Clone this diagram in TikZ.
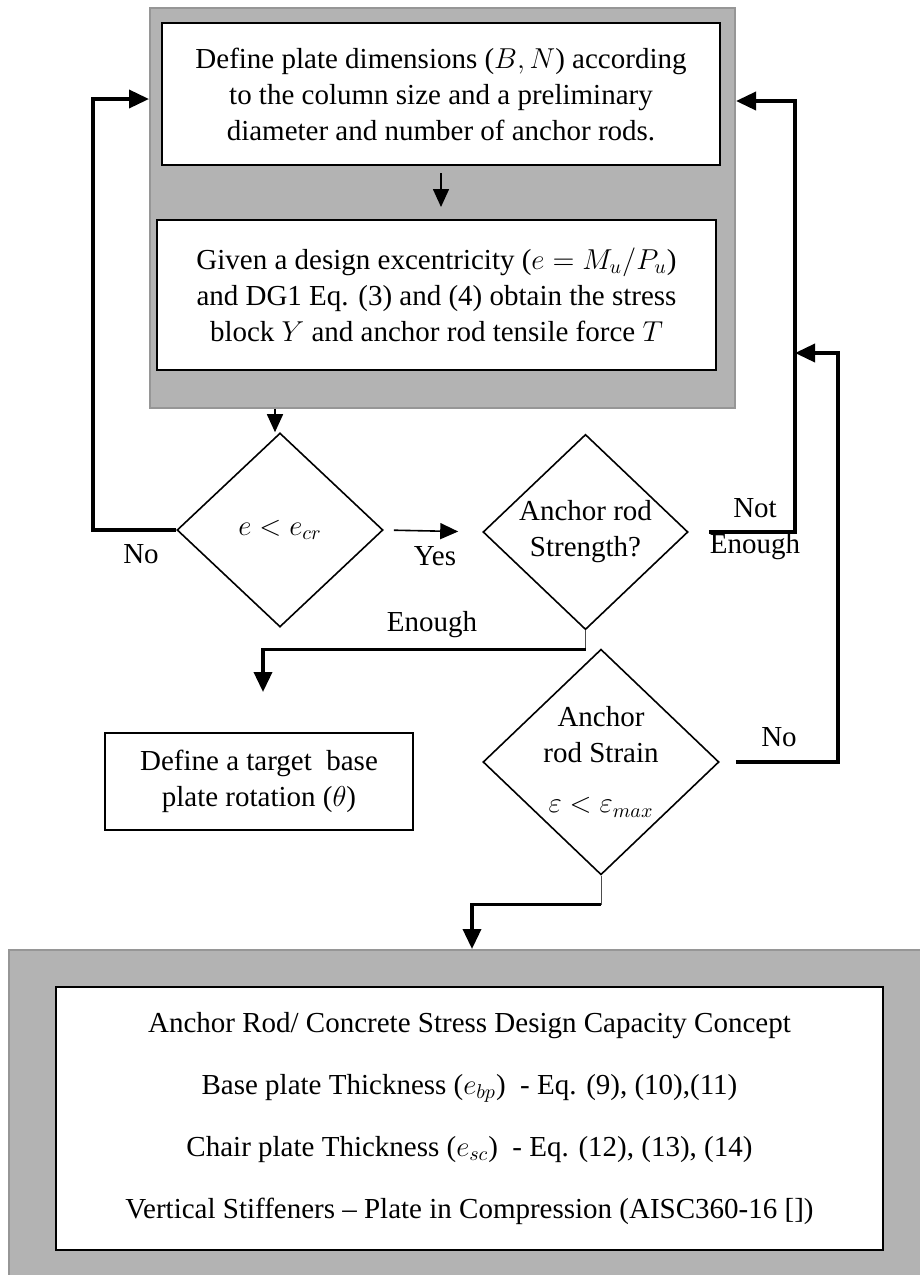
\documentclass[tikz,border=0pt]{standalone}
\usepackage{amsmath, amssymb}
\usepackage{fontspec}
\setmainfont{Liberation Serif}
\usepackage{tikz}
\usetikzlibrary{shapes, arrows.meta, positioning, calc}
\definecolor{panelgray}{RGB}{179, 179, 179}
\definecolor{paneledge}{RGB}{150, 150, 150}
\tikzset{
  >=Triangle,
  panel/.style={draw=paneledge, line width=1pt, fill=panelgray},
  stepbox/.style={draw, line width=1pt, fill=white, align=center, inner sep=2pt},
  decision/.style={draw, diamond, line width=0.8pt, fill=white, align=center, inner sep=0pt},
  thinarrow/.style={-{Triangle[length=9pt, width=8pt]}, line width=0.8pt},
  looparrow/.style={-{Triangle[length=10pt, width=9pt]}, line width=1.8pt},
  stub/.style={line width=0.4pt, black!70}
}
\begin{document}
\begin{tikzpicture}[x=0.5pt, y=-0.5pt, every node/.style={font=\fontsize{14.5}{18}\selectfont}]
\useasboundingbox (0,0) rectangle (920,1275);
\node[panel,minimum width=292.5pt,minimum height=200pt] (frame1) at (442.5,208) {};
\node[panel,minimum width=463pt,minimum height=170pt] (frame2) at (472,1120) {};
\node[stepbox,minimum width=279pt,minimum height=71pt] (box1) at (441,94)
{Define plate dimensions ($B,N$) according\\to the column size and a preliminary\\diameter and number of anchor rods.};
\node[stepbox,minimum width=279.5pt,minimum height=75pt] (box2) at (436.5,295)
{Given a design excentricity ($e=M_u/P_u$)\\and DG1 Eq. (3) and (4) obtain the stress\\block $Y$ and anchor rod tensile force $T$};
\node[decision,minimum width=103pt,minimum height=97pt] (d1) at (280,530) {$e<e_{cr}$};
\node[decision,minimum width=102.5pt,minimum height=96pt] (d2) at (585.5,532) {Anchor rod\\Strength?};
\node[decision,minimum width=118pt,minimum height=110.5pt] (d3) at (601,762)
{Anchor\\rod Strain\\[7pt]$\varepsilon<\varepsilon_{max}$};
\node[stepbox,minimum width=154pt,minimum height=48.5pt] (box3) at (259,781.5)
{Define a target~~base\\plate rotation ($\theta$)};
\node[stepbox,minimum width=413.5pt,minimum height=131.5pt] (box4) at (469.5,1118.5)
{Anchor Rod/ Concrete Stress Design Capacity Concept\\[13pt]
Base plate Thickness ($e_{bp}$)~~- Eq. (9), (10),(11)\\[13pt]
Chair plate Thickness ($e_{sc}$)~~- Eq. (12), (13), (14)\\[13pt]
Vertical Stiffeners -- Plate in Compression (AISC360-16 [])};
\node (lblno1) at (141,554) {No};
\node (lblyes) at (435,556) {Yes};
\node[align=center] (lblnot) at (755,529) {Not\\Enough};
\node (lblenough) at (432,625) {Enough};
\node (lblno2) at (779,737) {No};
\coordinate (join) at (795,353);
\draw[thinarrow,shorten <=3.5pt,shorten >=6pt] (box1.south) -- (box1.south |- box2.north);
\draw[thinarrow] ([xshift=-2.5pt]d1.north |- frame1.south) -- ([xshift=-2.5pt]d1.north);
\draw[thinarrow,shorten <=5pt,shorten >=12pt] (d1.east) -- (d2.west);
\draw[looparrow] (d1.west) -- ++(-83,0) |- (frame1.west |- {$(box1.west)+(0,5)$});
\draw[looparrow] ([xshift=10pt]d2.east) -| (join) |- (frame1.east |- {$(box1.east)+(0,7)$});
\draw[looparrow] ([xshift=8pt]d3.east) -| ([xshift=21.5pt]join) -- (join);
\draw[stub] (d2.south) -- ++(0,19);
\draw[looparrow] ([yshift=-9.5pt]d2.south) -| ([xshift=2pt,yshift=20pt]box3.north);
\draw[stub] (d3.south) -- ++(0,29);
\draw[looparrow] ([yshift=-14.5pt]d3.south) -| (frame2.north);
\end{tikzpicture}
\end{document}
